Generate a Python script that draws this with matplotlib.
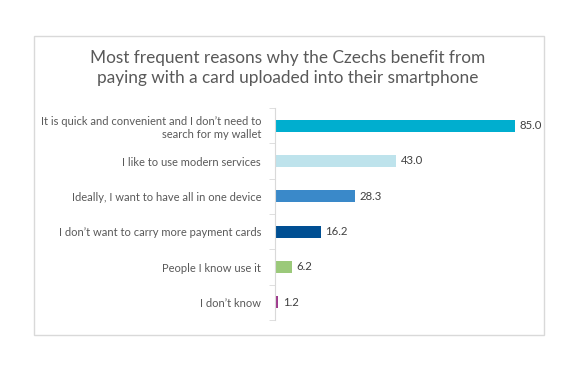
import numpy as np
import matplotlib.pyplot as plt
from matplotlib.patches import Rectangle

plt.rcParams['font.family'] = ['Lato', 'DejaVu Sans']

reasons = [
    "It is quick and convenient and I don\u2019t need to\nsearch for my wallet",
    "I like to use modern services",
    "Ideally, I want to have all in one device",
    "I don\u2019t want to carry more payment cards",
    "People I know use it",
    "I don\u2019t know",
]
values = [85.0, 43.0, 28.3, 16.2, 6.2, 1.2]
colors = ['#00AECF', '#BEE3EC', '#3A89C9', '#004F93', '#9BC97A', '#9E3A8C']

fig = plt.figure(figsize=(5.82, 3.78), dpi=100)
fig.patches.append(Rectangle((34 / 582, 1 - 335 / 378), 510 / 582, 299 / 378,
                             transform=fig.transFigure, fill=False,
                             edgecolor='#D9D9D9', linewidth=1))

ax = fig.add_axes([275 / 582, 1 - 320 / 378, 254 / 582, 212 / 378])
y = np.arange(len(values))
ax.barh(y, values, height=0.34, color=colors)
ax.set_ylim(len(values) - 0.5, -0.5)
ax.set_xlim(0, 90)

for yi, v in zip(y, values):
    ax.text(v + 1.5, yi, f'{v:.1f}', va='center', ha='left', fontsize=8.2, color='#404040')

ax.set_yticks(y)
ax.set_yticklabels(reasons, fontsize=8.0, color='#595959', linespacing=1.3)
ax.tick_params(axis='y', which='major', length=0, pad=10)
ax.set_yticks(np.arange(-0.5, len(values)), minor=True)
ax.tick_params(axis='y', which='minor', length=4, color='#D9D9D9')
ax.set_xticks([])
for s in ['top', 'right', 'bottom']:
    ax.spines[s].set_visible(False)
ax.spines['left'].set_color('#D9D9D9')

fig.text(288 / 582, 1 - 68 / 378,
         'Most frequent reasons why the Czechs benefit from\npaying with a card uploaded into their smartphone',
         ha='center', va='center', fontsize=12.4, color='#595959', linespacing=1.35)

fig.savefig('out.png', dpi=100)
